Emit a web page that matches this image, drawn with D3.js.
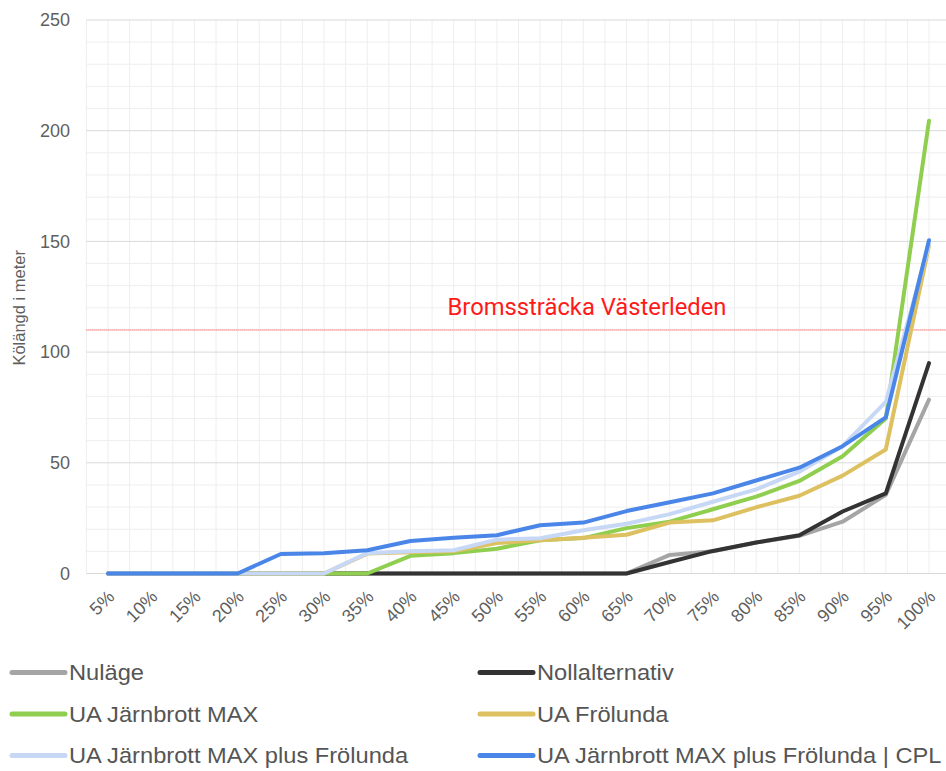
<!DOCTYPE html>
<html>
<head>
<meta charset="utf-8">
<script src="https://cdn.jsdelivr.net/npm/d3@7"></script>
<style>
  body { margin: 0; background: #fff; }
  svg { display: block; }
</style>
</head>
<body>
<div id="chart"></div>
<script>
const categories = ['5%', '10%', '15%', '20%', '25%', '30%', '35%', '40%', '45%', '50%',
  '55%', '60%', '65%', '70%', '75%', '80%', '85%', '90%', '95%', '100%']

const nulage = [0, 0, 0, 0, 0, 0, 0, 0, 0, 0, 0, 0, 0, 8.4, 10, 14, 17, 23.4, 35.5, 78.5]
const nollalternativ = [0, 0, 0, 0, 0, 0, 0, 0, 0, 0, 0, 0, 0, 5.2, 10.2, 14, 17.3, 28, 36.2, 95]
const jarnbrottMax = [0, 0, 0, 0, 0, 0, 0, 8, 9.2, 11.2, 15, 16, 20.5, 23.4, 29, 34.7, 41.8, 53, 70, 204.5]
const frolunda = [0, 0, 0, 0, 0, 0, 9, 9.6, 10, 13.8, 15, 16.2, 17.5, 23, 24, 29.9, 35.1, 44.2, 56, 148]
const jarnbrottPlusFrolunda = [0, 0, 0, 0, 0, 0, 9.2, 10, 10.5, 15.3, 15.9, 19.5, 22.5, 26.8, 32.4, 38, 46, 57.5, 77.5, 148.5]
const jarnbrottPlusFrolundaCpl = [0, 0, 0, 0, 8.8, 9.2, 10.5, 14.7, 16.2, 17.3, 21.8, 23, 28.2, 32.2, 36.2, 42, 47.8, 57.5, 70.5, 150.5]

const seriesNames = ['Nuläge', 'Nollalternativ', 'UA Järnbrott MAX', 'UA Frölunda',
  'UA Järnbrott MAX plus Frölunda', 'UA Järnbrott MAX plus Frölunda | CPL']
const seriesColors = ['#a5a5a5', '#333333', '#8fce4e', '#ddc060', '#c6d8f6', '#4a86e8']

const yTicks = [0, 50, 100, 150, 200, 250]
const bromsstracka = 110
const bromsLabel = 'Bromssträcka Västerleden'

const width = 946
const height = 771
const font = 'Liberation Sans, Arial, sans-serif'

const svg = d3.select('#chart').append('svg').attr('width', width).attr('height', height)

const x = d3.scalePoint().domain(categories).range([108, 929])
const step = x.step()
const y = d3.scaleLinear().domain([0, 250]).range([573.5, 20])

const left = x(categories[0]) - step / 2
const right = x(categories[categories.length - 1]) + step / 2

// grid
const grid = svg.append('g')
const vx = d3.range(-0.5, categories.length + 0.01, 0.5).map((k) => x(categories[0]) + k * step)
grid.selectAll('line.v').data(vx).join('line')
  .attr('x1', (d) => d).attr('x2', (d) => d)
  .attr('y1', y(250)).attr('y2', y(0))
  .attr('stroke', '#eeeeee').attr('stroke-width', 1)
grid.selectAll('line.h').data(d3.range(0, 251, 10)).join('line')
  .attr('x1', left).attr('x2', right)
  .attr('y1', (d) => y(d)).attr('y2', (d) => y(d))
  .attr('stroke', (d) => (d % 50 === 0 ? '#d9d9d9' : '#eeeeee'))
  .attr('stroke-width', 1)

// y axis labels
svg.append('g').selectAll('text').data(yTicks).join('text')
  .attr('x', 70).attr('y', (d) => y(d)).attr('dy', '0.35em')
  .attr('text-anchor', 'end')
  .attr('font-family', font)
  .attr('font-size', 18).attr('fill', '#5f5f5f')
  .text((d) => d)

svg.append('text')
  .attr('transform', `translate(25,${y(120)}) rotate(-90)`)
  .attr('text-anchor', 'middle')
  .attr('font-family', font)
  .attr('font-size', 16.5).attr('fill', '#5f5f5f')
  .text('Kölängd i meter')

// x axis labels
svg.append('g').selectAll('text').data(categories).join('text')
  .attr('transform', (d) => `translate(${x(d) + 3},${y(0) + 20}) rotate(-45)`)
  .attr('text-anchor', 'end')
  .attr('dy', '0.35em')
  .attr('font-family', font)
  .attr('font-size', 18).attr('fill', '#5f5f5f')
  .text((d) => d)

// reference line
svg.append('line')
  .attr('x1', left).attr('x2', right)
  .attr('y1', y(bromsstracka)).attr('y2', y(bromsstracka))
  .attr('stroke', '#ff3b3b').attr('stroke-width', 1)
  .attr('stroke-dasharray', '1,1')
svg.append('text')
  .attr('x', 587).attr('y', 315)
  .attr('text-anchor', 'middle')
  .attr('font-family', 'Roboto, sans-serif')
  .attr('font-size', 23).attr('fill', '#ff1a1a')
  .attr('textLength', 279).attr('lengthAdjust', 'spacingAndGlyphs')
  .text(bromsLabel)

// lines
const allSeries = [nulage, nollalternativ, jarnbrottMax, frolunda, jarnbrottPlusFrolunda, jarnbrottPlusFrolundaCpl]
const line = d3.line().x((d, i) => x(categories[i])).y((d) => y(d))
svg.append('g').selectAll('path').data(allSeries).join('path')
  .attr('d', line)
  .attr('fill', 'none')
  .attr('stroke', (d, i) => seriesColors[i])
  .attr('stroke-width', 4)
  .attr('stroke-linejoin', 'round')
  .attr('stroke-linecap', 'round')

// legend
const legend = svg.append('g')
  .selectAll('g').data(seriesNames).join('g')
  .attr('transform', (d, i) => `translate(${i % 2 === 0 ? 12 : 480},${672.5 + Math.floor(i / 2) * 41.5})`)
legend.append('line')
  .attr('x1', 0).attr('x2', 53)
  .attr('stroke', (d, i) => seriesColors[i])
  .attr('stroke-width', 5).attr('stroke-linecap', 'round')
legend.append('text')
  .attr('x', 57).attr('dy', '0.35em')
  .attr('font-family', font)
  .attr('font-size', 22).attr('fill', '#555')
  .text((d) => d)
  .each(function () {
    // the original legend text runs a little wider than the font gives
    const w = this.getComputedTextLength()
    d3.select(this).attr('textLength', w * 1.075).attr('lengthAdjust', 'spacingAndGlyphs')
  })
</script>
</body>
</html>
